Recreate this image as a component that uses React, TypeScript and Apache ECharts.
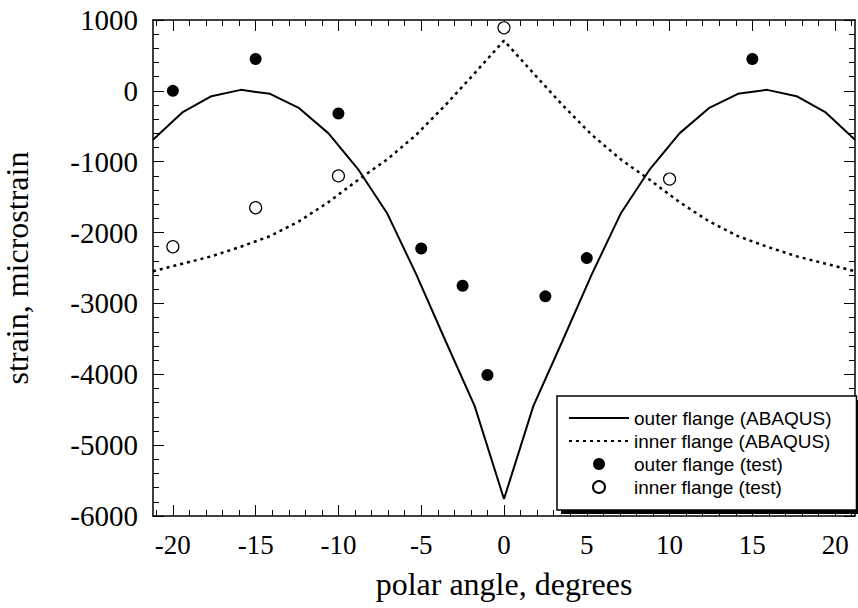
import React, { useEffect, useRef } from "react";
import * as echarts from "echarts";

// ABAQUS model nodes (polar angle, degrees)
const abaqusAngles = [
  -21.2, -19.43, -17.67, -15.9, -14.13, -12.37, -10.6, -8.83, -7.07, -5.3, -3.53, -1.77, 0,
  1.77, 3.53, 5.3, 7.07, 8.83, 10.6, 12.37, 14.13, 15.9, 17.67, 19.43, 21.2,
];
const outerAbaqus = [
  -690, -305, -75, 14, -42, -244, -600, -1100, -1723, -2590, -3530, -4450, -5760,
  -4450, -3530, -2590, -1723, -1100, -600, -244, -42, 14, -75, -305, -690,
];
const innerAbaqus = [
  -2545, -2440, -2335, -2200, -2050, -1840, -1570, -1260, -970, -620, -200, 250, 710,
  250, -200, -620, -970, -1260, -1570, -1840, -2050, -2200, -2335, -2440, -2545,
];

// Test measurements
const outerTestAngles = [-20, -15, -10, -5, -2.5, -1, 2.5, 5, 15];
const outerTestValues = [0, 450, -320, -2225, -2750, -4010, -2900, -2360, 450];
const innerTestAngles = [-20, -15, -10, 0, 10];
const innerTestValues = [-2200, -1650, -1200, 890, -1245];

// Axis ticks
const xMajorTicks = [-20, -15, -10, -5, 0, 5, 10, 15, 20];
const xMinorTicks = [
  -21, -20, -19, -18, -17, -16, -15, -14, -13, -12, -11, -10, -9, -8, -7, -6, -5, -4, -3, -2, -1, 0,
  1, 2, 3, 4, 5, 6, 7, 8, 9, 10, 11, 12, 13, 14, 15, 16, 17, 18, 19, 20, 21,
];

const seriesNames = [
  "outer flange (ABAQUS)",
  "inner flange (ABAQUS)",
  "outer flange (test)",
  "inner flange (test)",
];

const SERIF = "Times New Roman";
const SANS = "Liberation Sans";

const zip = (xs: number[], ys: number[]) => xs.map((x, i) => [x, ys[i]]);
const plain = (v: number) => String(v);

export default function App() {
  const ref = useRef<HTMLDivElement>(null);

  useEffect(() => {
    if (!ref.current) return;
    const chart = echarts.init(ref.current, undefined, { renderer: "svg" });

    const frameLine = { show: true, onZero: false, lineStyle: { color: "#000", width: 1.5 } };
    const noLine = { show: false, onZero: false };
    const xBase = { type: "value", min: -21.2, max: 21.2, splitLine: { show: false } };

    const option: any = {
      animation: false,
      textStyle: { fontFamily: SERIF, color: "#000" },
      grid: { left: 153, top: 20, right: 3, bottom: 92, outerBoundsMode: "none", containLabel: false },
      xAxis: [
        {
          ...xBase,
          position: "bottom",
          axisLine: frameLine,
          axisTick: { show: true, inside: true, length: 11, customValues: xMajorTicks, lineStyle: { color: "#000", width: 1 } },
          axisLabel: { customValues: xMajorTicks, fontFamily: SERIF, fontSize: 27, color: "#000", margin: 15, formatter: plain },
          name: "polar angle, degrees",
          nameLocation: "middle",
          nameGap: 52,
          nameTextStyle: { fontFamily: SERIF, fontSize: 32, color: "#000" },
        },
        {
          ...xBase,
          position: "bottom",
          axisLine: noLine,
          axisTick: { show: true, inside: true, length: 6, customValues: xMinorTicks, lineStyle: { color: "#000", width: 1 } },
          axisLabel: { show: false },
        },
        {
          ...xBase,
          position: "top",
          axisLine: frameLine,
          axisTick: { show: true, inside: true, length: 11, customValues: xMajorTicks, lineStyle: { color: "#000", width: 1 } },
          axisLabel: { show: false },
        },
        {
          ...xBase,
          position: "top",
          axisLine: noLine,
          axisTick: { show: true, inside: true, length: 6, customValues: xMinorTicks, lineStyle: { color: "#000", width: 1 } },
          axisLabel: { show: false },
        },
      ],
      yAxis: [
        {
          type: "value",
          min: -6000,
          max: 1000,
          interval: 1000,
          position: "left",
          axisLine: frameLine,
          axisTick: { show: true, inside: true, length: 11, lineStyle: { color: "#000", width: 1 } },
          minorTick: { show: true, splitNumber: 5, length: 6, lineStyle: { color: "#000", width: 1 } },
          axisLabel: { fontFamily: SERIF, fontSize: 29, color: "#000", margin: 15, formatter: plain },
          splitLine: { show: false },
          name: "strain, microstrain",
          nameLocation: "middle",
          nameRotate: 90,
          nameGap: 120,
          nameTextStyle: { fontFamily: SERIF, fontSize: 32, color: "#000" },
        },
        {
          type: "value",
          min: -6000,
          max: 1000,
          interval: 1000,
          position: "right",
          axisLine: frameLine,
          axisTick: { show: true, inside: true, length: 11, lineStyle: { color: "#000", width: 1 } },
          minorTick: { show: true, splitNumber: 5, length: 6, lineStyle: { color: "#000", width: 1 } },
          axisLabel: { show: false },
          splitLine: { show: false },
        },
      ],
      legend: {
        orient: "vertical",
        left: 557,
        top: 396,
        itemWidth: 60,
        itemHeight: 12,
        itemGap: 3,
        padding: [12, 25, 13, 11],
        backgroundColor: "#fff",
        borderColor: "#000",
        borderWidth: 1.5,
        borderRadius: 0,
        selectedMode: false,
        z: 10,
        textStyle: { fontFamily: SANS, fontSize: 19, color: "#000", lineHeight: 20 },
        data: [
          { name: seriesNames[0], itemStyle: { opacity: 0 } },
          { name: seriesNames[1], itemStyle: { opacity: 0 } },
          { name: seriesNames[2] },
          { name: seriesNames[3] },
        ],
      },
      graphic: [
        {
          type: "rect",
          shape: { x: 561, y: 400, width: 297, height: 114 },
          style: { fill: "#000" },
          z: 5,
        },
      ],
      series: [
        {
          name: seriesNames[0],
          type: "line",
          xAxisIndex: 0,
          yAxisIndex: 0,
          data: zip(abaqusAngles, outerAbaqus),
          symbol: "none",
          showSymbol: false,
          lineStyle: { color: "#000", width: 2 },
          itemStyle: { color: "#000" },
        },
        {
          name: seriesNames[1],
          type: "line",
          xAxisIndex: 0,
          yAxisIndex: 0,
          data: zip(abaqusAngles, innerAbaqus),
          symbol: "none",
          showSymbol: false,
          lineStyle: { color: "#000", width: 2.5, type: [3, 4] },
          itemStyle: { color: "#000" },
        },
        {
          name: seriesNames[2],
          type: "scatter",
          xAxisIndex: 0,
          yAxisIndex: 0,
          data: zip(outerTestAngles, outerTestValues),
          symbol: "circle",
          symbolSize: 12,
          itemStyle: { color: "#000", opacity: 1 },
        },
        {
          name: seriesNames[3],
          type: "scatter",
          xAxisIndex: 0,
          yAxisIndex: 0,
          data: zip(innerTestAngles, innerTestValues),
          symbol: "circle",
          symbolSize: 12,
          itemStyle: { color: "#fff", borderColor: "#000", borderWidth: 1.2, opacity: 1 },
        },
      ],
    };

    chart.setOption(option);
    return () => chart.dispose();
  }, []);

  return (
    <div
      ref={ref}
      style={{ position: "absolute", left: 0, top: 0, width: 858, height: 608 }}
    />
  );
}
